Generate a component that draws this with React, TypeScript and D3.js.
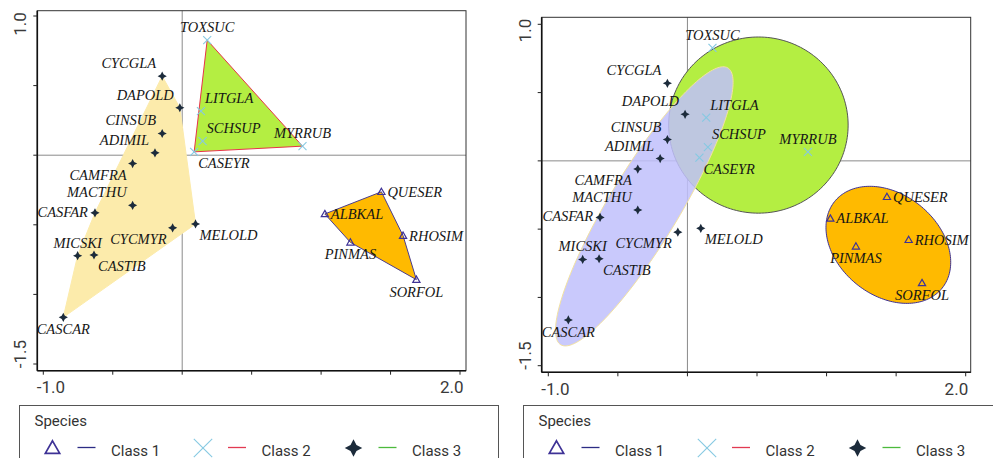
import React from "react";
import * as d3 from "d3";

// ---------- data ----------
const species = [
  "CYCGLA", "DAPOLD", "CINSUB", "ADIMIL", "CAMFRA", "MACTHU", "CASFAR", "CYCMYR", "MELOLD", "MICSKI", "CASTIB", "CASCAR",
  "TOXSUC", "LITGLA", "SCHSUP", "CASEYR", "MYRRUB",
  "QUESER", "ALBKAL", "RHOSIM", "PINMAS", "SORFOL",
];
const speciesClass = [3, 3, 3, 3, 3, 3, 3, 3, 3, 3, 3, 3, 2, 2, 2, 2, 2, 1, 1, 1, 1, 1];
const axis1 = [
  -0.144, -0.017, -0.144, -0.196, -0.357, -0.357, -0.628, -0.069, 0.096, -0.753, -0.635, -0.856,
  0.18, 0.135, 0.147, 0.086, 0.866,
  1.434, 1.027, 1.59, 1.211, 1.686,
];
const axis2 = [
  0.568, 0.341, 0.156, 0.017, -0.06, -0.36, -0.414, -0.522, -0.494, -0.722, -0.717, -1.165,
  0.827, 0.317, 0.101, 0.024, 0.065,
  -0.263, -0.422, -0.578, -0.626, -0.894,
];
// label placement code per species (t, b, tl, bl, l, tr, br, r)
const labelPlace = [
  "tl", "tl", "tl", "tl", "bl", "tl", "l", "bl", "br", "t", "br", "b",
  "t", "tr", "tr", "br", "t",
  "r", "r", "r", "b", "b",
];

const classes = [1, 2, 3];
const classNames = ["Class 1", "Class 2", "Class 3"];
const legendTitle = "Species";

// ellipses (right panel), data units
const ellipseClass = [2, 1, 3];
const ellipseCx = [0.51, 1.444, -0.31];
const ellipseCy = [0.262, -0.615, -0.333];
const ellipseA = [0.645, 0.5, 1.178];
const ellipseB = [0.645, 0.367, 0.254];
const ellipseAngle = [0, -40.7, 59.4];

const xTicks = [-1, -0.5, 0, 0.5, 1, 1.5, 2];
const yTicks = [-1.5, -1, -0.5, 0, 0.5, 1];
const xTickLabels = ["-1.0", "2.0"];
const yTickLabels = ["-1.5", "1.0"];

// ---------- styles ----------
const markerColor: Record<number, string> = { 1: "#3e3296", 2: "#86c9e2", 3: "#1c2b3b" };
const legendLineColor: Record<number, string> = { 1: "#2c2c84", 2: "#e23a52", 3: "#4cba3c" };
const hullFill: Record<number, string> = { 1: "#ffba00", 2: "#b4ee42", 3: "#fcebab" };
const hullStroke: Record<number, string> = { 1: "#4a3d8f", 2: "#e8334a", 3: "#fcebab" };
const ellFill: Record<number, string> = { 1: "#ffba00", 2: "#b4ee42", 3: "#c0c0fb" };
const ellStroke: Record<number, string> = { 1: "#3e3296", 2: "#555555", 3: "#f3e2a0" };
const ellOpacity: Record<number, number> = { 1: 1, 2: 1, 3: 0.85 };

const placeMap: Record<string, { a: string; dx: number; dy: number }> = {
  t: { a: "middle", dx: 0, dy: -8 },
  b: { a: "middle", dx: 0, dy: 17 },
  tl: { a: "end", dx: -6, dy: -8 },
  bl: { a: "end", dx: -6, dy: 16 },
  l: { a: "end", dx: -7, dy: 4 },
  tr: { a: "start", dx: 4, dy: -8 },
  br: { a: "start", dx: 4, dy: 16 },
  r: { a: "start", dx: 6, dy: 5 },
};

function Marker({ cls, x, y, s }: { cls: number; x: number; y: number; s: number }) {
  const c = markerColor[cls];
  if (cls === 1) {
    const r = 3.6 * s;
    return (
      <path
        d={`M${x},${y - r}L${x + r},${y + r * 0.75}L${x - r},${y + r * 0.75}Z`}
        fill="none"
        stroke={c}
        strokeWidth={1.2 * Math.sqrt(s)}
      />
    );
  }
  if (cls === 2) {
    const r = 4 * s;
    return (
      <g stroke={c} strokeWidth={1.1}>
        <line x1={x - r} y1={y - r} x2={x + r} y2={y + r} />
        <line x1={x - r} y1={y + r} x2={x + r} y2={y - r} />
      </g>
    );
  }
  const r = 4.6 * s;
  const k = 0.34 * r;
  return (
    <path
      d={`M${x},${y - r}L${x + k},${y - k}L${x + r},${y}L${x + k},${y + k}L${x},${y + r}L${x - k},${y + k}L${x - r},${y}L${x - k},${y - k}Z`}
      fill={c}
    />
  );
}

type Panel = {
  x0: number; x1: number; y0: number; y1: number;
  xr: [number, number]; yr: [number, number];
  kind: "hull" | "ellipse";
  lx: number; ly: number;
};

const panels: Panel[] = [
  { x0: 37.3, x1: 466, y0: 10.7, y1: 370.7, xr: [43.3, 460], yr: [364, 16], kind: "hull", lx: 19.5, ly: 405.5 },
  { x0: 541.7, x1: 970.7, y0: 17.3, y1: 372.3, xr: [548.3, 965.7], yr: [365.7, 24.3], kind: "ellipse", lx: 523.5, ly: 405.5 },
];

function PanelView({ p }: { p: Panel }) {
  const x = d3.scaleLinear().domain([-1, 2]).range(p.xr);
  const y = d3.scaleLinear().domain([-1.5, 1]).range(p.yr);
  const idx = d3.range(species.length);

  const shapes: React.ReactNode[] = [];
  if (p.kind === "hull") {
    [3, 2, 1].forEach((c) => {
      const pts = idx.filter((i) => speciesClass[i] === c).map((i) => [x(axis1[i]), y(axis2[i])] as [number, number]);
      const hull = d3.polygonHull(pts);
      if (hull) {
        shapes.push(
          <path key={"h" + c} d={"M" + hull.join("L") + "Z"} fill={hullFill[c]} stroke={hullStroke[c]} strokeWidth={1} />
        );
      }
    });
  } else {
    const line = d3.line<[number, number]>().curve(d3.curveLinearClosed);
    ellipseClass.forEach((c, j) => {
      const th = (ellipseAngle[j] * Math.PI) / 180;
      const pts = d3.range(0, 2 * Math.PI, Math.PI / 90).map((t) => {
        const ex = ellipseCx[j] + ellipseA[j] * Math.cos(t) * Math.cos(th) - ellipseB[j] * Math.sin(t) * Math.sin(th);
        const ey = ellipseCy[j] + ellipseA[j] * Math.cos(t) * Math.sin(th) + ellipseB[j] * Math.sin(t) * Math.cos(th);
        return [x(ex), y(ey)] as [number, number];
      });
      shapes.push(
        <path key={"e" + c} d={line(pts) || ""} fill={ellFill[c]} fillOpacity={ellOpacity[c]} stroke={ellStroke[c]} strokeWidth={1} />
      );
    });
  }

  const tickColor = "#222";
  return (
    <g>
      {/* zero lines */}
      <line x1={p.x0} x2={p.x1} y1={y(0)} y2={y(0)} stroke="#8a8a8a" strokeWidth={1} />
      <line x1={x(0)} x2={x(0)} y1={p.y0} y2={p.y1} stroke="#8a8a8a" strokeWidth={1} />
      {shapes}
      {/* frame */}
      <rect x={p.x0} y={p.y0} width={p.x1 - p.x0} height={p.y1 - p.y0} fill="none" stroke="#333" strokeWidth={1} />
      <line x1={p.x0} x2={p.x0} y1={p.y0} y2={p.y1} stroke="#111" strokeWidth={1.6} />
      <line x1={p.x0} x2={p.x1} y1={p.y1} y2={p.y1} stroke="#111" strokeWidth={1.6} />
      {xTicks.map((t) => (
        <line key={"xt" + t} x1={x(t)} x2={x(t)} y1={p.y1} y2={p.y1 + 4} stroke={tickColor} strokeWidth={1} />
      ))}
      {yTicks.map((t) => (
        <line key={"yt" + t} x1={p.x0 - 4} x2={p.x0} y1={y(t)} y2={y(t)} stroke={tickColor} strokeWidth={1} />
      ))}
      <g fontFamily="Roboto, Arial, sans-serif" fontSize={17} fill="#3a3a3a">
        <text x={p.x0 - 0.5} y={p.y1 + 22.5} textAnchor="start">{xTickLabels[0]}</text>
        <text x={p.x1 - 2.5} y={p.y1 + 22.5} textAnchor="end">{xTickLabels[1]}</text>
        <text transform={`translate(${p.x0 - 11},${p.y1 - 2.5}) rotate(-90)`} textAnchor="start">{yTickLabels[0]}</text>
        <text transform={`translate(${p.x0 - 11},${p.y0 + 1.5}) rotate(-90)`} textAnchor="end">{yTickLabels[1]}</text>
      </g>
      {/* points */}
      {idx.map((i) => (
        <Marker key={"m" + i} cls={speciesClass[i]} x={x(axis1[i])} y={y(axis2[i])} s={1} />
      ))}
      {/* labels */}
      <g fontFamily="'Liberation Serif', 'Times New Roman', serif" fontStyle="italic" fontSize={14.5} fill="#151515">
        {idx.map((i) => {
          const pl = placeMap[labelPlace[i]];
          return (
            <text key={"l" + i} x={x(axis1[i]) + pl.dx} y={y(axis2[i]) + pl.dy} textAnchor={pl.a}>
              {species[i]}
            </text>
          );
        })}
      </g>
      {/* legend */}
      <g transform={`translate(${p.lx},${p.ly})`} fontFamily="Roboto, Arial, sans-serif" fill="#333">
        <rect x={0} y={0} width={p.kind === "hull" ? 479 : 480} height={80} fill="white" stroke="#555" strokeWidth={1} />
        <text x={15} y={20.5} fontSize={15}>{legendTitle}</text>
        {classes.map((c, j) => {
          const bx = 33 + j * 150.5;
          return (
            <g key={"lg" + c}>
              <Marker cls={c} x={bx} y={42.5} s={c === 1 ? 2 : c === 2 ? 2.3 : 1.9} />
              <line x1={bx + 25} x2={bx + 43} y1={42} y2={42} stroke={legendLineColor[c]} strokeWidth={1.3} />
              <text x={bx + 58.5} y={50} fontSize={15}>{classNames[j]}</text>
            </g>
          );
        })}
      </g>
    </g>
  );
}

export default function App() {
  return (
    <svg
      width={993}
      height={458}
      style={{ position: "absolute", left: 0, top: 0, background: "white" }}
    >
      <rect x={0} y={0} width={993} height={458} fill="white" />
      {panels.map((p, k) => (
        <PanelView key={k} p={p} />
      ))}
    </svg>
  );
}
